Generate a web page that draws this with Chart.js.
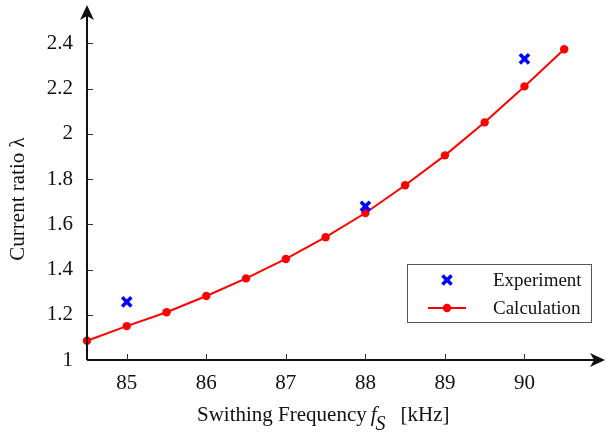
<!DOCTYPE html>
<html>
<head>
<meta charset="utf-8">
<script src="https://cdn.jsdelivr.net/npm/chart.js@4/dist/chart.umd.min.js"></script>
<style>
  html, body { margin: 0; padding: 0; background: #fff; }
  #wrap { width: 606px; height: 437px; }
</style>
</head>
<body>
<div id="wrap"><canvas id="js_ratioChart"></canvas></div>
<script>
const freqCalc = [84.5, 85, 85.5, 86, 86.5, 87, 87.5, 88, 88.5, 89, 89.5, 90, 90.5];
const ratioCalc = [1.085, 1.150, 1.211, 1.283, 1.361, 1.447, 1.543, 1.650, 1.773, 1.905, 2.051, 2.210, 2.374];

const freqExp = [85, 88, 90];
const ratioExp = [1.257, 1.680, 2.332];

const xTicks = [85, 86, 87, 88, 89, 90];
const yTicks = [1, 1.2, 1.4, 1.6, 1.8, 2, 2.2, 2.4];

const serif = '"Liberation Serif", "DejaVu Serif", serif';

const toPoints = (xs, ys) => xs.map((x, i) => ({ x, y: ys[i] }));

const noPadding = (scale) => {
  scale.paddingTop = 0;
  scale.paddingBottom = 0;
  scale.paddingLeft = 0;
  scale.paddingRight = 0;
};

// axis lines with arrow heads, inner ticks, axis titles and the boxed legend
const axesPlugin = {
  id: 'axesPlugin',
  afterDraw(chart) {
    const { ctx, chartArea, scales } = chart;
    const { left, bottom } = chartArea;
    const xEnd = 605;
    const yEnd = 5;

    ctx.save();
    ctx.strokeStyle = '#111';
    ctx.fillStyle = '#111';
    ctx.lineWidth = 2;
    ctx.beginPath();
    ctx.moveTo(left, bottom);
    ctx.lineTo(xEnd - 6, bottom);
    ctx.moveTo(left, bottom);
    ctx.lineTo(left, yEnd + 6);
    ctx.stroke();

    // arrow heads
    ctx.beginPath();
    ctx.moveTo(xEnd, bottom);
    ctx.lineTo(xEnd - 15, bottom - 7);
    ctx.lineTo(xEnd - 11, bottom);
    ctx.lineTo(xEnd - 15, bottom + 7);
    ctx.closePath();
    ctx.fill();
    ctx.beginPath();
    ctx.moveTo(left, yEnd);
    ctx.lineTo(left - 7, yEnd + 15);
    ctx.lineTo(left, yEnd + 11);
    ctx.lineTo(left + 7, yEnd + 15);
    ctx.closePath();
    ctx.fill();

    // inner ticks
    ctx.lineWidth = 1;
    ctx.strokeStyle = '#333';
    ctx.beginPath();
    xTicks.forEach((v) => {
      const px = Math.round(scales.x.getPixelForValue(v)) + 0.5;
      ctx.moveTo(px, bottom);
      ctx.lineTo(px, bottom - 6);
    });
    yTicks.slice(1).forEach((v) => {
      const py = Math.round(scales.y.getPixelForValue(v)) + 0.5;
      ctx.moveTo(left, py);
      ctx.lineTo(left + 6, py);
    });
    ctx.stroke();

    // x title: Swithing Frequency f_s [kHz]
    ctx.fillStyle = '#111';
    ctx.textBaseline = 'alphabetic';
    ctx.textAlign = 'left';
    const ty = 421;
    let tx = 197;
    ctx.font = '21px ' + serif;
    const part1 = 'Swithing Frequency';
    ctx.fillText(part1, tx, ty);
    tx += ctx.measureText(part1).width + 4;
    ctx.font = 'italic 21px ' + serif;
    ctx.fillText('f', tx, ty);
    tx += ctx.measureText('f').width;
    ctx.font = 'italic 20px ' + serif;
    ctx.fillText('S', tx - 1, ty + 9);
    tx += ctx.measureText('S').width + 14;
    ctx.font = '21px ' + serif;
    ctx.fillText('[kHz]', tx, ty);

    // y title
    ctx.save();
    ctx.translate(24, 199);
    ctx.rotate(-Math.PI / 2);
    ctx.textAlign = 'center';
    ctx.font = '21px ' + serif;
    ctx.fillText('Current ratio \u03bb', 0, 0);
    ctx.restore();

    // legend
    const bx = 407.5;
    const by = 264.5;
    ctx.strokeStyle = '#555';
    ctx.lineWidth = 1;
    ctx.strokeRect(bx, by, 184, 58);
    ctx.font = '19px ' + serif;
    ctx.textBaseline = 'middle';
    chart.data.datasets.forEach((ds, i) => {
      const cy = 280 + i * 28;
      const cx = 447;
      if (ds.showLine) {
        ctx.strokeStyle = ds.borderColor;
        ctx.lineWidth = 2;
        ctx.beginPath();
        ctx.moveTo(cx - 19, cy);
        ctx.lineTo(cx + 19, cy);
        ctx.stroke();
      }
      ctx.strokeStyle = ds.borderColor;
      ctx.fillStyle = ds.backgroundColor;
      ctx.lineWidth = ds.pointBorderWidth;
      Chart.helpers.drawPoint(ctx, {
        pointStyle: ds.pointStyle,
        radius: ds.pointRadius,
        borderWidth: ds.pointBorderWidth,
      }, cx, cy);
      ctx.fillStyle = '#111';
      ctx.fillText(ds.label, 493, cy + 1);
    });
    ctx.restore();
  },
};

document.addEventListener('DOMContentLoaded', () => {
  const ctx = document.getElementById('js_ratioChart');

  new Chart(ctx, {
    type: 'scatter',
    data: {
      datasets: [{
        label: 'Experiment',
        data: toPoints(freqExp, ratioExp),
        showLine: false,
        pointStyle: 'crossRot',
        pointRadius: 6.5,
        pointBorderWidth: 3.5,
        borderColor: '#0000ff',
        backgroundColor: '#0000ff',
        order: 0,
      }, {
        label: 'Calculation',
        data: toPoints(freqCalc, ratioCalc),
        showLine: true,
        pointStyle: 'circle',
        pointRadius: 4.2,
        pointBorderWidth: 0,
        borderColor: '#ff0000',
        backgroundColor: '#ff0000',
        borderWidth: 2,
        order: 1,
      }],
    },
    options: {
      responsive: true,
      maintainAspectRatio: false,
      animation: false,
      clip: false,
      layout: { padding: { top: 5, right: 2, left: 0, bottom: 0 }, autoPadding: false },
      plugins: { legend: { display: false }, tooltip: { enabled: false } },
      scales: {
        x: {
          type: 'linear',
          min: 84.5,
          max: 91.0,
          afterBuildTicks: (scale) => { scale.ticks = xTicks.map((value) => ({ value })); },
          afterFit: (scale) => { scale.height = 77; noPadding(scale); },
          grid: { display: false, drawTicks: false },
          border: { display: false },
          ticks: {
            padding: 11,
            color: '#111',
            font: { family: serif, size: 21 },
            callback: (v) => String(v),
          },
        },
        y: {
          type: 'linear',
          min: 1,
          max: 2.57,
          afterBuildTicks: (scale) => { scale.ticks = yTicks.map((value) => ({ value })); },
          afterFit: (scale) => { scale.width = 87; noPadding(scale); },
          grid: { display: false, drawTicks: false },
          border: { display: false },
          ticks: {
            padding: 14,
            color: '#111',
            font: { family: serif, size: 21 },
            callback: (v) => String(Math.round(v * 10) / 10),
          },
        },
      },
    },
    plugins: [axesPlugin],
  });
});
</script>
</body>
</html>
